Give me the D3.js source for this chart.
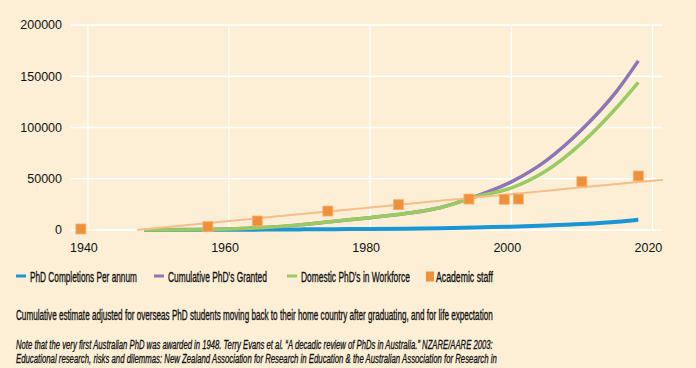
<!DOCTYPE html>
<html>
<head>
<meta charset="utf-8">
<script src="https://cdn.jsdelivr.net/npm/d3@7"></script>
<style>
  body { margin: 0; background: #fdefd6; }
  svg { display: block; }
  text { font-family: "Liberation Sans Narrow", "Liberation Sans", Arial, sans-serif; fill: #111; }
</style>
</head>
<body>
<script>
// series data
var years = [1948, 1955, 1960, 1965, 1970, 1975, 1980, 1985, 1990, 1995, 2000, 2005, 2010, 2015, 2018];
var completions = [0, 150, 250, 400, 600, 800, 1000, 1300, 1800, 2500, 3200, 4300, 5800, 8000, 10000];
var cumulative = [0, 300, 1000, 2500, 5000, 8500, 12000, 16000, 22000, 33000, 47000, 68000, 98000, 136000, 165000];
var workforce = [0, 300, 1000, 2500, 5000, 8500, 12000, 16000, 22000, 32500, 41000, 58000, 85000, 120000, 144000];

var staffYears = [1939, 1957, 1964, 1974, 1984, 1994, 1999, 2001, 2010, 2018];
var staff = [1000, 3200, 8800, 18500, 24700, 30200, 30000, 30200, 47100, 52700];

var trendYears = [1947, 1960, 1980, 2000, 2010, 2021.5];
var trend = [0, 8800, 22000, 35000, 41600, 49000];

var xTicks = [1940, 1960, 1980, 2000, 2020];
var yTicks = [0, 50000, 100000, 150000, 200000];

var legendItems = [
    { name: "PhD Completions Per annum", color: "#1a96d4", type: "line", x: 16, w: 107 },
    { name: "Cumulative PhD's Granted", color: "#8c76b6", type: "line", x: 154, w: 99 },
    { name: "Domestic PhD's in Workforce", color: "#9acb62", type: "line", x: 287, w: 109 },
    { name: "Academic staff", color: "#ef913a", type: "square", x: 426, w: 57 }
];

var width = 696, height = 368;

var svg = d3.select("body").append("svg")
    .attr("width", width)
    .attr("height", height);

svg.append("rect").attr("width", width).attr("height", height).attr("fill", "#fdefd6");

var x = d3.scaleLinear().domain([1937.6, 2021.5]).range([71, 663]);
var y = d3.scaleLinear().domain([0, 200000]).range([230, 25]);

// squeeze a text horizontally so it fills the given width (condensed look)
function fitText(t, px, py, w) {
    var natural = t.node().getComputedTextLength();
    t.attr("x", 0).attr("y", 0)
        .attr("transform", "translate(" + px + "," + py + ") scale(" + (w / natural) + ",1)");
}

// gridlines
svg.selectAll(".hgrid")
    .data(yTicks)
    .enter().append("line")
    .attr("x1", 71).attr("x2", 663)
    .attr("y1", function (d) { return y(d); })
    .attr("y2", function (d) { return y(d); })
    .attr("stroke", "#ffffff")
    .attr("stroke-width", 1.3);

svg.selectAll(".vgrid")
    .data(xTicks)
    .enter().append("line")
    .attr("x1", function (d) { return x(d); })
    .attr("x2", function (d) { return x(d); })
    .attr("y1", y(200000)).attr("y2", y(0))
    .attr("stroke", "#ffffff")
    .attr("stroke-width", 1.3);

// tick labels
svg.selectAll(".ylab")
    .data(yTicks)
    .enter().append("text")
    .attr("x", 62)
    .attr("y", function (d) { return y(d); })
    .attr("dy", "0.35em")
    .attr("text-anchor", "end")
    .style("font-family", "'Liberation Sans', Arial, sans-serif")
    .style("font-size", "12.5px")
    .text(function (d) { return d; });

svg.selectAll(".xlab")
    .data(xTicks)
    .enter().append("text")
    .attr("x", function (d) { return x(d) - 4; })
    .attr("y", 252)
    .attr("text-anchor", "middle")
    .style("font-family", "'Liberation Sans', Arial, sans-serif")
    .style("font-size", "12.5px")
    .text(function (d) { return d; });

// series lines
var line = d3.line()
    .x(function (d) { return x(d[0]); })
    .y(function (d) { return y(d[1]); })
    .curve(d3.curveMonotoneX);

function pairs(xs, ys) {
    return xs.map(function (v, i) { return [v, ys[i]]; });
}

svg.append("path")
    .attr("d", line(pairs(years, completions)))
    .attr("fill", "none").attr("stroke", "#1a96d4").attr("stroke-width", 4);

svg.append("path")
    .attr("d", line(pairs(years, cumulative)))
    .attr("fill", "none").attr("stroke", "#8c76b6").attr("stroke-width", 3.5);

svg.append("path")
    .attr("d", line(pairs(years, workforce)))
    .attr("fill", "none").attr("stroke", "#9acb62").attr("stroke-width", 3.5);

// academic staff trend
svg.append("path")
    .attr("d", line(pairs(trendYears, trend)))
    .attr("fill", "none").attr("stroke", "#f9bd8a").attr("stroke-width", 2);

// academic staff points
svg.selectAll(".staff")
    .data(pairs(staffYears, staff))
    .enter().append("rect")
    .attr("x", function (d) { return x(d[0]) - 5; })
    .attr("y", function (d) { return y(d[1]) - 5; })
    .attr("width", 10).attr("height", 10)
    .attr("fill", "#ef913a")
    .attr("stroke", "#f6b272")
    .attr("stroke-width", 0.8);

// legend
var lg = svg.selectAll(".legend")
    .data(legendItems)
    .enter().append("g");

lg.each(function (d) {
    var g = d3.select(this);
    if (d.type == "line") {
        g.append("rect").attr("x", d.x).attr("y", 274.5).attr("width", 10).attr("height", 3).attr("fill", d.color);
    } else {
        g.append("rect").attr("x", d.x).attr("y", 271.5).attr("width", 8).attr("height", 10).attr("fill", d.color);
    }
    var t = g.append("text")
        .style("font-size", "15px")
        .style("stroke", "#111").style("stroke-width", 0.35)
        .text(d.name);
    fitText(t, d.x + 14 - (d.type == "square" ? 4 : 0), 281.5, d.w);
});

// notes
var n1 = svg.append("text")
    .style("font-size", "14.5px")
    .style("stroke", "#111").style("stroke-width", 0.35)
    .text("Cumulative estimate adjusted for overseas PhD students moving back to their home country after graduating, and for life expectation");
fitText(n1, 16, 319.5, 477);

var n2 = svg.append("text")
    .style("font-size", "12.5px").style("font-style", "italic")
    .style("stroke", "#111").style("stroke-width", 0.3)
    .text("Note that the very first Australian PhD was awarded in 1948. Terry Evans et al. \u201cA decadic review of PhDs in Australia.\u201d NZARE/AARE 2003:");
fitText(n2, 16, 349, 477);

var n3 = svg.append("text")
    .style("font-size", "12.5px").style("font-style", "italic")
    .style("stroke", "#111").style("stroke-width", 0.3)
    .text("Educational research, risks and dilemmas: New Zealand Association for Research in Education & the Australian Association for Research in");
fitText(n3, 16, 362.5, 481);
</script>
</body>
</html>
